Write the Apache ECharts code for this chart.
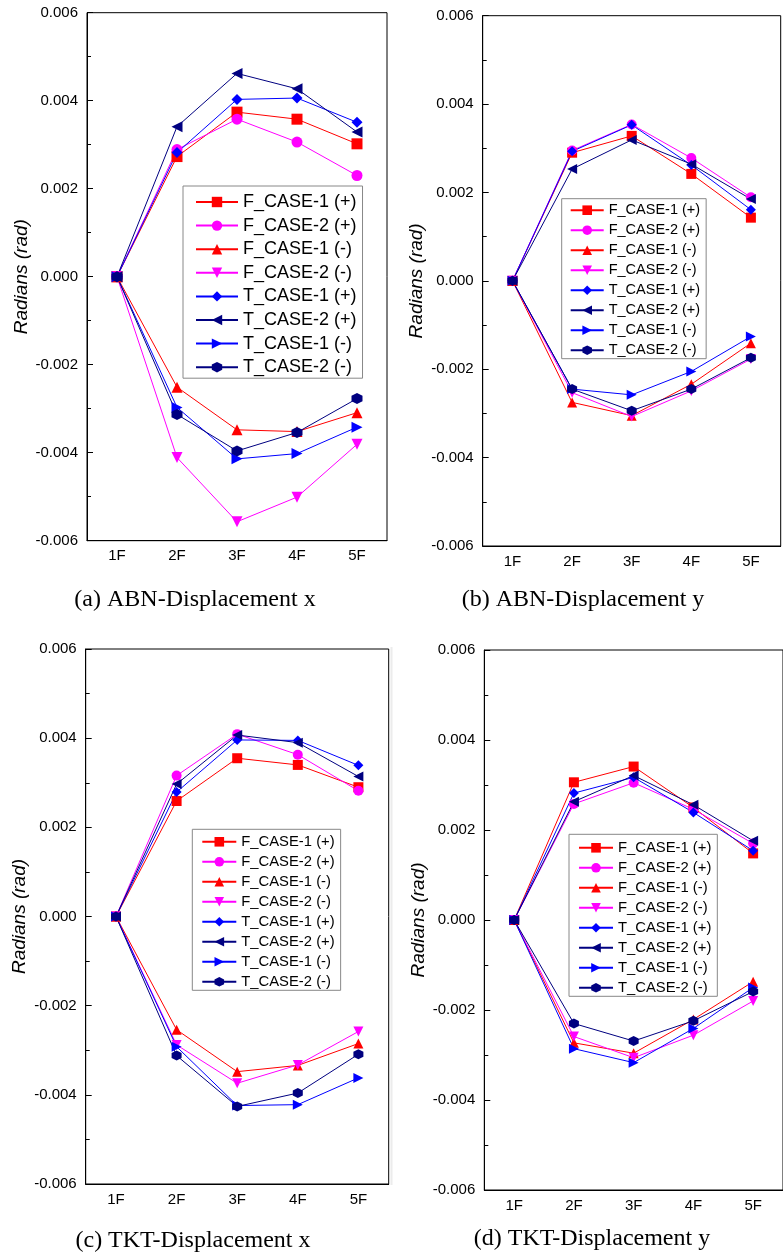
<!DOCTYPE html>
<html>
<head>
<meta charset="utf-8">
<script src="https://cdn.jsdelivr.net/npm/echarts@6/dist/echarts.min.js"></script>
<style>
  html, body { margin: 0; padding: 0; background: #fff; }
  #chart { width: 783px; height: 1256px; }
</style>
</head>
<body>
<div id="chart"></div>
<script>
// Storeys on the horizontal axis
const floors = ['1F', '2F', '3F', '4F', '5F'];

// Series names (legend order)
const seriesNames = [
  'F_CASE-1 (+)', 'F_CASE-2 (+)', 'F_CASE-1 (-)', 'F_CASE-2 (-)',
  'T_CASE-1 (+)', 'T_CASE-2 (+)', 'T_CASE-1 (-)', 'T_CASE-2 (-)'
];

// Captions below each panel
const captions = [
  '(a) ABN-Displacement x', '(b) ABN-Displacement y',
  '(c) TKT-Displacement x', '(d) TKT-Displacement y'
];

// Y axis range (rad)
const yMin = -0.006, yMax = 0.006, yStep = 0.002;

// (a) ABN - displacement x
const abnX_F1p = [0, 0.00273, 0.00374, 0.00358, 0.00302];
const abnX_F2p = [0, 0.00289, 0.00358, 0.00306, 0.00230];
const abnX_F1n = [0, -0.00251, -0.00348, -0.00352, -0.00309];
const abnX_F2n = [0, -0.00411, -0.00557, -0.00501, -0.00381];
const abnX_T1p = [0, 0.00282, 0.00403, 0.00406, 0.00351];
const abnX_T2p = [0, 0.00341, 0.00462, 0.00427, 0.00329];
const abnX_T1n = [0, -0.00297, -0.00414, -0.00402, -0.00342];
const abnX_T2n = [0, -0.00313, -0.00396, -0.00354, -0.00277];

// (b) ABN - displacement y
const abnY_F1p = [0, 0.00290, 0.00328, 0.00242, 0.00143];
const abnY_F2p = [0, 0.00295, 0.00354, 0.00278, 0.00189];
const abnY_F1n = [0, -0.00275, -0.00305, -0.00234, -0.00141];
const abnY_F2n = [0, -0.00253, -0.00307, -0.00249, -0.00177];
const abnY_T1p = [0, 0.00293, 0.00353, 0.00262, 0.00161];
const abnY_T2p = [0, 0.00253, 0.00319, 0.00264, 0.00185];
const abnY_T1n = [0, -0.00245, -0.00258, -0.00205, -0.00126];
const abnY_T2n = [0, -0.00245, -0.00294, -0.00245, -0.00174];

// (c) TKT - displacement x
const tktX_F1p = [0, 0.00259, 0.00355, 0.00340, 0.00290];
const tktX_F2p = [0, 0.00316, 0.00409, 0.00363, 0.00282];
const tktX_F1n = [0, -0.00254, -0.00348, -0.00334, -0.00285];
const tktX_F2n = [0, -0.00288, -0.00374, -0.00333, -0.00258];
const tktX_T1p = [0, 0.00279, 0.00396, 0.00395, 0.00339];
const tktX_T2p = [0, 0.00297, 0.00407, 0.00390, 0.00314];
const tktX_T1n = [0, -0.00292, -0.00424, -0.00422, -0.00362];
const tktX_T2n = [0, -0.00312, -0.00426, -0.00396, -0.00309];

// (d) TKT - displacement y
const tktY_F1p = [0, 0.00306, 0.00341, 0.00250, 0.00148];
const tktY_F2p = [0, 0.00258, 0.00305, 0.00246, 0.00170];
const tktY_F1n = [0, -0.00273, -0.00296, -0.00221, -0.00137];
const tktY_F2n = [0, -0.00259, -0.00306, -0.00256, -0.00180];
const tktY_T1p = [0, 0.00282, 0.00317, 0.00239, 0.00154];
const tktY_T2p = [0, 0.00263, 0.00321, 0.00256, 0.00176];
const tktY_T1n = [0, -0.00286, -0.00317, -0.00241, -0.00150];
const tktY_T2n = [0, -0.00230, -0.00269, -0.00224, -0.00159];

const panelData = [
  [abnX_F1p, abnX_F2p, abnX_F1n, abnX_F2n, abnX_T1p, abnX_T2p, abnX_T1n, abnX_T2n],
  [abnY_F1p, abnY_F2p, abnY_F1n, abnY_F2n, abnY_T1p, abnY_T2p, abnY_T1n, abnY_T2n],
  [tktX_F1p, tktX_F2p, tktX_F1n, tktX_F2n, tktX_T1p, tktX_T2p, tktX_T1n, tktX_T2n],
  [tktY_F1p, tktY_F2p, tktY_F1n, tktY_F2n, tktY_T1p, tktY_T2p, tktY_T1n, tktY_T2n]
];

// Marker shapes
const TRI_DOWN = 'path://M0,0 L10,0 L5,10 Z';
const TRI_LEFT = 'path://M10,0 L10,10 L0,5 Z';
const TRI_RIGHT = 'path://M0,0 L10,5 L0,10 Z';
const HEXAGON = 'path://M5,0 L9.33,2.5 L9.33,7.5 L5,10 L0.67,7.5 L0.67,2.5 Z';

const seriesStyles = [
  { color: '#ff0000', symbol: 'rect' },
  { color: '#ff00ff', symbol: 'circle' },
  { color: '#ff0000', symbol: 'triangle' },
  { color: '#ff00ff', symbol: TRI_DOWN },
  { color: '#0000ff', symbol: 'diamond' },
  { color: '#000080', symbol: TRI_LEFT },
  { color: '#0000ff', symbol: TRI_RIGHT },
  { color: '#000080', symbol: HEXAGON }
];

// Panel geometry
const layout = [
  { grid: { left: 87, top: 12.7, width: 300, height: 528 },
    legend: { left: 183, top: 186, padding: [7, 6, 2, 12], itemWidth: 42, itemHeight: 13, itemGap: 5.6, fontSize: 18 },
    caption: [195, 600], symbolSize: 11 },
  { grid: { left: 482.7, top: 15.7, width: 298, height: 530.3 },
    legend: { left: 561.7, top: 198.7, padding: [4, 6, 1, 8], itemWidth: 33, itemHeight: 12, itemGap: 5, fontSize: 14.5 },
    caption: [583, 600], symbolSize: 10 },
  { grid: { left: 85.7, top: 649, width: 303, height: 535 },
    legend: { left: 192.3, top: 829.3, padding: [5, 6, 1, 9], itemWidth: 34, itemHeight: 12, itemGap: 5, fontSize: 14.8 },
    caption: [193, 1241], symbolSize: 10 },
  { grid: { left: 484.3, top: 650, width: 306, height: 540 },
    legend: { left: 569, top: 834.3, padding: [6, 6, 1, 9], itemWidth: 34, itemHeight: 12, itemGap: 5, fontSize: 14.8 },
    caption: [592, 1239], symbolSize: 10 }
];

const SANS = '"Liberation Sans", Arial, sans-serif';
const SERIF = '"Liberation Serif", "Times New Roman", serif';

const grids = [], xAxes = [], yAxes = [], legends = [], series = [], graphics = [];

layout.forEach((p, i) => {
  grids.push(Object.assign({ show: true, borderColor: '#000', borderWidth: 1, backgroundColor: 'transparent' }, p.grid));

  // main category axis: labels and ticks at storeys
  xAxes.push({
    type: 'category', gridIndex: i, data: floors, boundaryGap: true,
    axisLine: { onZero: false, lineStyle: { color: '#000', width: 1 } },
    axisTick: { inside: true, alignWithLabel: true, length: 5, lineStyle: { color: '#000' } },
    axisLabel: { color: '#000', fontSize: 15, fontFamily: SANS, margin: 8 },
    splitLine: { show: false }
  });
  // companion axis: short ticks between storeys
  xAxes.push({
    type: 'category', gridIndex: i, data: floors, boundaryGap: true, position: 'bottom',
    axisLine: { show: false, onZero: false },
    axisTick: { inside: true, alignWithLabel: false, length: 3, lineStyle: { color: '#000' } },
    axisLabel: { show: false },
    splitLine: { show: false }
  });

  yAxes.push({
    type: 'value', gridIndex: i, min: yMin, max: yMax, interval: yStep,
    name: 'Radians (rad)', nameLocation: 'middle', nameGap: 56,
    nameTextStyle: { fontStyle: 'italic', fontSize: 19, color: '#000', fontFamily: SANS },
    axisLine: { show: true, lineStyle: { color: '#000', width: 1 } },
    axisTick: { show: true, inside: true, length: 6, lineStyle: { color: '#000' } },
    minorTick: { show: true, splitNumber: 2, length: 4, lineStyle: { color: '#000' } },
    axisLabel: { color: '#000', fontSize: 15, fontFamily: SANS, margin: 9, formatter: v => v.toFixed(3) },
    splitLine: { show: false }
  });

  const lg = p.legend;
  legends.push({
    orient: 'vertical', left: lg.left, top: lg.top, padding: lg.padding,
    itemWidth: lg.itemWidth, itemHeight: lg.itemHeight, itemGap: lg.itemGap,
    backgroundColor: '#fff', borderColor: '#888', borderWidth: 1, borderRadius: 0,
    selectedMode: false, data: seriesNames,
    textStyle: { color: '#000', fontSize: lg.fontSize, fontFamily: SANS }
  });

  panelData[i].forEach((values, k) => {
    const st = seriesStyles[k];
    series.push({
      type: 'line', name: seriesNames[k], xAxisIndex: i * 2, yAxisIndex: i,
      data: values, symbol: st.symbol, symbolSize: p.symbolSize, showSymbol: true,
      lineStyle: { color: st.color, width: 1 },
      itemStyle: { color: st.color, borderWidth: 0 },
      animation: false, silent: true
    });
  });

  graphics.push({
    type: 'text', x: p.caption[0], y: p.caption[1],
    style: { text: captions[i], fill: '#000', fontSize: 24, fontFamily: SERIF, align: 'center', verticalAlign: 'middle' }
  });
});

// thin frame edge beside the lower-right panel
graphics.push({
  type: 'line', shape: { x1: 391.5, y1: 647, x2: 391.5, y2: 1185 },
  style: { stroke: '#ececec', lineWidth: 2 }
});

const chart = echarts.init(document.getElementById('chart'), null, { renderer: 'canvas' });
chart.setOption({
  animation: false,
  backgroundColor: '#fff',
  grid: grids, xAxis: xAxes, yAxis: yAxes, legend: legends,
  series: series, graphic: graphics
});
</script>
</body>
</html>
